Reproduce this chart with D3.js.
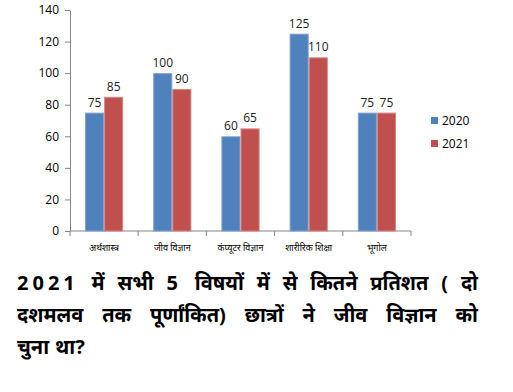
<!DOCTYPE html>
<html><head><meta charset="utf-8">
<script src="https://cdn.jsdelivr.net/npm/d3@7"></script>
<style>
html,body{margin:0;padding:0;background:#fff;}
svg{display:block;}
</style>
</head><body>
<svg id="c" width="513" height="392"></svg>
<script>
const categories = ["अर्थशास्त्र", "जीव विज्ञान", "कंप्यूटर विज्ञान", "शारीरिक शिक्षा", "भूगोल"];
const seriesNames = ["2020", "2021"];
const values2020 = [75, 100, 60, 125, 75];
const values2021 = [85, 90, 65, 110, 75];
const yTicks = [0, 20, 40, 60, 80, 100, 120, 140];
const questionLines = [
  "2021 में सभी 5 विषयों में से कितने प्रतिशत ( दो",
  "दशमलव तक पूर्णांकित) छात्रों ने जीव विज्ञान को",
  "चुना था?"
];
const colors = ["#4F81BD", "#C0504D"];
const edgeColors = ["#7FA3D0", "#D68583"];

(function(){
const svg = d3.select("#c");
const mLeft = 70, mRight = 411, mTop = 10, mBottom = 231;

const x = d3.scaleBand().domain(categories).range([mLeft, mRight]).paddingInner(0.44).paddingOuter(0.22);
const xs = d3.scaleBand().domain(seriesNames).range([0, x.bandwidth()]);
const y = d3.scaleLinear().domain([0, 140]).range([mBottom, mTop]);

const data = categories.map((c, i) => ({cat: c, vals: [values2020[i], values2021[i]]}));

// y axis
const yAxis = d3.axisLeft(y).tickValues(yTicks).tickSize(5).tickPadding(6).tickSizeOuter(0);
const gy = svg.append("g").attr("transform", `translate(${mLeft},0)`).call(yAxis);
gy.select(".domain").attr("stroke", "#868686");
gy.selectAll(".tick line").attr("stroke", "#868686");
gy.selectAll("text").attr("font-family", "'Open Sans', sans-serif").attr("font-size", 12).attr("fill", "#000");

// x axis
const gx = svg.append("g").attr("transform", `translate(0,${mBottom})`);
gx.append("line").attr("x1", mLeft).attr("x2", mRight).attr("y1", 0).attr("y2", 0).attr("stroke", "#868686");
const tickXs = d3.range(categories.length + 1).map(i => mLeft + i * (mRight - mLeft) / categories.length);
gx.selectAll("line.t").data(tickXs).enter().append("line").attr("class", "t")
  .attr("x1", d => d).attr("x2", d => d).attr("y1", 0).attr("y2", 5).attr("stroke", "#868686");
gx.selectAll("text.c").data(categories).enter().append("text").attr("class", "c")
  .attr("x", d => x(d) + x.bandwidth() / 2).attr("y", 20)
  .attr("text-anchor", "middle").attr("font-family", "'Noto Sans', sans-serif").attr("font-size", 9).attr("fill", "#000")
  .text(d => d);

// bars
const g = svg.append("g");
data.forEach(d => {
  d.vals.forEach((v, j) => {
    g.append("rect")
      .attr("x", x(d.cat) + xs(seriesNames[j]) + 0.5)
      .attr("y", y(v) + 0.5)
      .attr("width", xs.bandwidth() - 1)
      .attr("height", y(0) - y(v) - 0.5)
      .attr("fill", colors[j])
      .attr("stroke", edgeColors[j]).attr("stroke-width", 1);
    g.append("text")
      .attr("x", x(d.cat) + xs(seriesNames[j]) + xs.bandwidth() / 2)
      .attr("y", y(v) - 6)
      .attr("text-anchor", "middle").attr("font-family", "'Open Sans', sans-serif").attr("font-size", 12).attr("fill", "#222")
      .text(v);
  });
});

// legend
const lg = svg.append("g").attr("transform", "translate(431,121)");
seriesNames.forEach((s, i) => {
  lg.append("rect").attr("x", 0).attr("y", i * 23 - 4).attr("width", 7).attr("height", 7).attr("fill", colors[i]);
  lg.append("text").attr("x", 11).attr("y", i * 23 + 4).attr("font-family", "'Open Sans', sans-serif").attr("font-size", 12).attr("fill", "#000").text(s);
});

// question text, justified
const qx0 = 17, qx1 = 478;
const baselines = [290, 322, 354];
questionLines.forEach((line, li) => {
  const words = line.split(" ");
  const justify = li < questionLines.length - 1;
  const tg = svg.append("g");
  const ts = words.map(w => {
    const t = tg.append("text").attr("y", baselines[li])
      .attr("font-family", "'Noto Sans', sans-serif").attr("font-size", 20).attr("font-weight", "bold").attr("fill", "#000").text(w);
    if (/^[0-9]+$/.test(w)) t.attr("letter-spacing", "4px");
    return t;
  });
  const widths = ts.map(t => t.node().getComputedTextLength());
  const total = d3.sum(widths);
  const gap = justify ? (qx1 - qx0 - total) / (words.length - 1) : 6;
  let cx = qx0;
  ts.forEach((t, i) => { t.attr("x", cx); cx += widths[i] + gap; });
});
})();
</script>
</body></html>
